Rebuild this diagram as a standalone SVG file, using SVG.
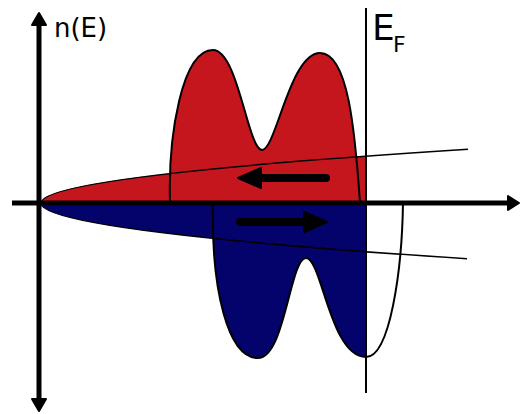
<svg xmlns="http://www.w3.org/2000/svg" width="520" height="414" viewBox="0 0 520 414">
<style>
.red{fill:#c5161e;stroke:none}
.blue{fill:#03036b;stroke:none}
.outline{fill:none;stroke:#000;stroke-width:2;stroke-linejoin:round}
.thin{fill:none;stroke:#000;stroke-width:1.6}
.axis{stroke:#000;stroke-width:5;fill:none}
.head{fill:#000;stroke:#000;stroke-width:2;stroke-linejoin:round}
.shaft{stroke:#000;stroke-width:8;stroke-linecap:round;fill:none}
.lbl{font-family:"DejaVu Sans",sans-serif;fill:#000}
</style>
<rect width="520" height="414" fill="#fff"/>
<g id="spin-up">
<path class="red" d="M41,203 Q41,179.55 366,156.1 L366,203 Z"/>
<path class="red" d="M170,203 C168,135 182,50 213,50 C238,50 248,150 262,150 C276,150 290,53 320,53 C348,53 355,130 360,203 Z"/>
<path class="outline" d="M170,203 C168,135 182,50 213,50 C238,50 248,150 262,150 C276,150 290,53 320,53 C348,53 355,130 360,203"/>
<path class="thin" d="M41,203 Q41,176.15 468,149.3"/>
</g>
<g id="spin-down">
<path class="blue" d="M41,203 Q41,227.35 366,251.7 L366,203 Z"/>
<path class="blue" d="M213,203 C211,290 228,358 258,358 C285,358 290,258 306,258 C322,258 330,357 366,357 L366,203 Z"/>
<path class="outline" d="M213,203 C211,290 228,358 258,358 C285,358 290,258 306,258 C322,258 330,357 366,357 C390,357 402,270 403,203"/>
<path class="thin" d="M41,203 Q41,230.85 467,258.7"/>
</g>
<g id="connectors">
<line class="axis" x1="12" y1="203" x2="509" y2="203"/>
<polygon class="head" points="519,203 508,196 508,210"/>
<line class="axis" x1="39" y1="24" x2="39" y2="400"/>
<polygon class="head" points="39,13 32,25 46,25"/>
<polygon class="head" points="39,411 32,399 46,399"/>
<line x1="366" y1="8" x2="366" y2="393" stroke="#000" stroke-width="2"/>
<line class="shaft" x1="326" y1="178" x2="256" y2="178"/>
<polygon class="head" points="238,178 261,168 261,188"/>
<line class="shaft" x1="240" y1="222" x2="310" y2="222"/>
<polygon class="head" points="327,222 304,212 304,232"/>
</g>
<g id="labels">
<text class="lbl" x="54" y="37" font-size="26">n(E)</text>
<text class="lbl" x="372" y="40" font-size="36">E</text>
<text class="lbl" x="393" y="52" font-size="22">F</text>
</g>
</svg>
